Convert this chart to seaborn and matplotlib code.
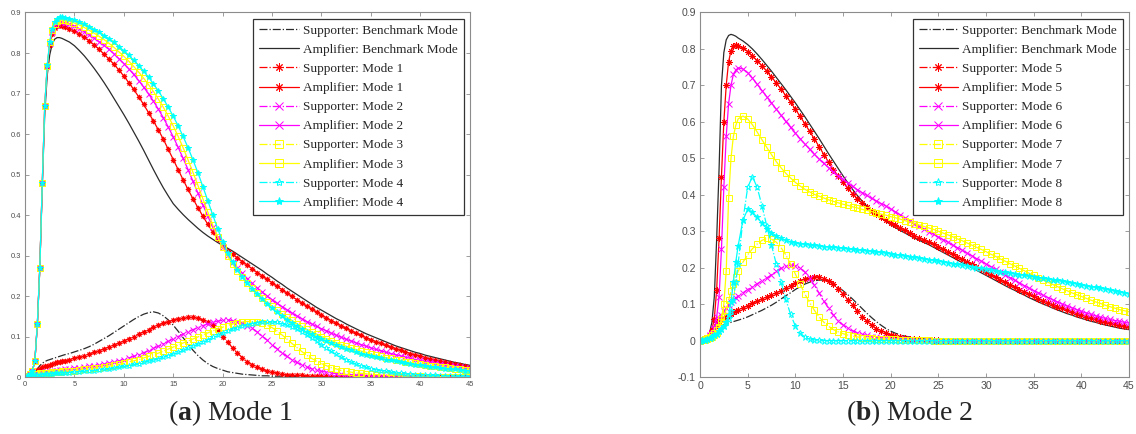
import numpy as np
import matplotlib
matplotlib.use('Agg')
import matplotlib.pyplot as plt
import seaborn as sns
from matplotlib.ticker import MultipleLocator, FormatStrFormatter

# 时间轴：开头上升很快，所以前 4 个单位取得更密
t = np.concatenate([np.arange(0, 4.01, 0.25), np.arange(4.5, 45.01, 0.5)])

# ---------------- (a) Mode 1 ----------------
a_bench_sup = [0, .002, .004, .008, .013, .020, .028, .034, .038, .041, .043, .045, .047, .049, .051, .053, .055,
               .058, .062, .066, .070, .075, .081, .088, .095, .102, .110,
               .118, .126, .134, .142, .149, .155, .159, .161, .158, .151,
               .141, .128, .113, .097, .081, .066, .053, .042, .033, .026,
               .021, .017, .013, .011, .009, .007, .006, .005, .004, .003,
               .003, .002, .002, .002, .001, .001, .001, .001, .001, .001,
               0, 0, 0, 0, 0, 0, 0, 0, 0, 0,
               0, 0, 0, 0, 0, 0, 0, 0, 0, 0,
               0, 0, 0, 0, 0, 0, 0, 0, 0, 0,
               0, 0]
a_bench_amp = [0, .003, .007, .015, .04, .13, .27, .47, .65, .745, .795, .822, .834, .838, .838, .836, .833,
               .827, .818, .806, .793, .778, .762, .745, .727, .708, .688,
               .668, .648, .627, .605, .583, .560, .536, .512, .489, .467,
               .447, .428, .414, .401, .389, .378, .367, .357, .348, .340,
               .332, .325, .318, .311, .303, .295, .287, .279, .271, .263,
               .254, .246, .237, .229, .220, .212, .204, .196, .188, .180,
               .172, .165, .158, .151, .144, .138, .131, .125, .119, .113,
               .107, .102, .097, .092, .087, .082, .077, .073, .069, .065,
               .061, .058, .054, .051, .048, .045, .042, .039, .036, .034,
               .031, .029]
a_sup1 = [0, .002, .005, .009, .014, .018, .021, .024, .026, .028, .030, .032, .034, .036, .037, .039, .040,
          .043, .046, .050, .053, .057, .061, .065, .070, .074, .079,
          .084, .089, .095, .100, .106, .112, .117, .123, .128, .133,
          .137, .141, .144, .146, .147, .147, .145, .141, .135, .128,
          .115, .100, .086, .072, .059, .048, .038, .030, .024, .019,
          .015, .012, .010, .008, .006, .005, .004, .004, .003, .003,
          .002, .002, .002, .001, .001, .001, .001, .001, .001, .001,
          0, 0, 0, 0, 0, 0, 0, 0, 0, 0,
          0, 0, 0, 0, 0, 0, 0, 0, 0, 0,
          0, 0]
a_amp1 = [0, .003, .007, .015, .04, .13, .27, .48, .67, .765, .82, .848, .862, .867, .868, .867, .865,
          .860, .854, .847, .839, .830, .820, .809, .797, .785, .772,
          .758, .743, .727, .710, .692, .673, .653, .632, .610, .587,
          .562, .537, .512, .487, .463, .440, .418, .397, .377, .358,
          .341, .325, .312, .303, .294, .285, .276, .267, .258, .250,
          .241, .233, .224, .216, .207, .199, .191, .183, .175, .168,
          .160, .153, .146, .139, .133, .126, .120, .114, .108, .103,
          .097, .092, .087, .083, .078, .074, .070, .066, .062, .058,
          .055, .052, .048, .045, .042, .040, .037, .034, .032, .030,
          .027, .025]
a_sup2 = [0, .002, .004, .006, .008, .009, .010, .011, .012, .013, .013, .014, .015, .016, .017, .018, .019,
          .020, .022, .023, .025, .026, .028, .030, .032, .034, .037,
          .040, .043, .047, .051, .055, .060, .065, .071, .076, .082,
          .088, .094, .100, .106, .112, .117, .122, .127, .131, .135,
          .138, .140, .141, .139, .136, .133, .127, .120, .111, .101,
          .091, .080, .070, .060, .051, .043, .036, .030, .025, .020,
          .017, .014, .012, .010, .008, .007, .006, .005, .004, .004,
          .003, .003, .002, .002, .002, .002, .001, .001, .001, .001,
          0, 0, 0, 0, 0, 0, 0, 0, 0, 0,
          0, 0]
a_amp2 = [0, .003, .007, .015, .04, .13, .27, .48, .67, .767, .824, .852, .868, .874, .876, .876, .875,
          .871, .866, .860, .853, .845, .837, .828, .819, .809, .798,
          .786, .774, .761, .747, .732, .716, .699, .681, .661, .640,
          .617, .593, .567, .540, .512, .483, .454, .425, .397, .370,
          .345, .322, .302, .285, .270, .256, .243, .231, .220, .210,
          .200, .191, .182, .174, .166, .158, .151, .144, .137, .131,
          .125, .119, .114, .108, .103, .098, .093, .089, .084, .080,
          .076, .072, .068, .065, .061, .058, .055, .052, .049, .046,
          .043, .041, .038, .036, .034, .032, .030, .028, .026, .024,
          .022, .020]
a_sup3 = [0, .001, .003, .005, .007, .008, .009, .010, .010, .011, .011, .012, .012, .013, .013, .014, .014,
          .015, .016, .017, .019, .020, .022, .023, .025, .027, .029,
          .031, .034, .037, .040, .043, .047, .051, .055, .059, .064,
          .069, .074, .079, .084, .089, .094, .099, .104, .109, .114,
          .118, .123, .127, .131, .134, .136, .137, .137, .136, .133,
          .128, .122, .114, .104, .094, .083, .073, .063, .054, .046,
          .039, .033, .028, .023, .020, .016, .014, .012, .010, .009,
          .008, .007, .006, .005, .004, .004, .003, .003, .002, .002,
          .002, .002, .001, .001, .001, .001, .001, .001, 0, 0,
          0, 0]
a_amp3 = [0, .003, .007, .015, .04, .13, .27, .48, .67, .768, .826, .856, .872, .879, .882, .882, .881,
          .878, .874, .869, .863, .856, .849, .841, .833, .824, .814,
          .803, .792, .780, .767, .753, .738, .722, .705, .686, .666,
          .644, .620, .594, .566, .536, .505, .473, .440, .407, .375,
          .346, .320, .298, .279, .262, .247, .233, .220, .208, .196,
          .185, .175, .165, .156, .148, .140, .132, .125, .118, .112,
          .106, .100, .095, .090, .085, .080, .076, .072, .068, .064,
          .061, .057, .054, .051, .048, .046, .043, .041, .038, .036,
          .034, .032, .030, .028, .027, .025, .024, .022, .021, .019,
          .018, .017]
a_sup4 = [0, .001, .002, .003, .004, .005, .005, .006, .007, .007, .008, .008, .009, .009, .009, .010, .010,
          .011, .012, .013, .014, .015, .016, .017, .019, .020, .022,
          .024, .026, .028, .031, .033, .036, .039, .042, .045, .049,
          .053, .057, .061, .066, .071, .076, .081, .087, .092, .098,
          .103, .108, .113, .118, .122, .126, .129, .132, .134, .136,
          .137, .136, .135, .132, .128, .124, .118, .111, .104, .096,
          .088, .079, .071, .063, .056, .049, .043, .037, .032, .028,
          .024, .021, .018, .016, .014, .012, .010, .009, .008, .007,
          .006, .005, .005, .004, .004, .003, .003, .003, .002, .002,
          .002, .001]
a_amp4 = [0, .003, .007, .015, .04, .13, .27, .48, .67, .77, .828, .86, .877, .885, .888, .888, .887,
          .885, .881, .876, .871, .865, .858, .851, .843, .835, .826,
          .816, .805, .794, .782, .769, .755, .740, .724, .706, .687,
          .666, .644, .620, .594, .566, .536, .504, .470, .435, .400,
          .366, .334, .306, .283, .264, .247, .232, .218, .205, .193,
          .181, .170, .160, .151, .142, .134, .126, .118, .111, .105,
          .099, .093, .088, .083, .078, .074, .070, .066, .062, .058,
          .055, .052, .049, .046, .043, .041, .039, .036, .034, .032,
          .030, .029, .027, .025, .024, .022, .021, .020, .019, .018,
          .016, .015]

# ---------------- (b) Mode 2 ----------------
b_bench_sup = [0, .001, .003, .006, .012, .020, .028, .034, .039, .042, .044, .046, .048, .050, .052, .054, .056,
               .060, .065, .071, .077, .083, .090, .097, .105, .114, .123,
               .131, .140, .148, .155, .160, .164, .166, .166, .163, .156,
               .147, .137, .126, .114, .101, .088, .075, .063, .052, .042,
               .033, .026, .020, .016, .012, .010, .008, .006, .005, .004,
               .003, .002, .002, .001, .001, .001, .001, 0, 0, 0,
               0, 0, 0, 0, 0, 0, 0, 0, 0, 0,
               0, 0, 0, 0, 0, 0, 0, 0, 0, 0,
               0, 0, 0, 0, 0, 0, 0, 0, 0, 0,
               0, 0]
b_bench_amp = [0, .001, .003, .007, .020, .050, .120, .280, .470, .700, .790, .825, .837, .840, .838, .835, .830,
               .822, .812, .800, .786, .771, .755, .739, .722, .705, .688,
               .670, .652, .633, .614, .594, .574, .554, .533, .512, .492,
               .472, .452, .433, .415, .398, .383, .369, .357, .346, .336,
               .327, .318, .310, .302, .295, .288, .281, .275, .269, .263,
               .256, .249, .242, .235, .228, .221, .214, .207, .200, .193,
               .186, .179, .172, .165, .158, .151, .144, .138, .131, .125,
               .118, .112, .106, .100, .095, .089, .084, .079, .074, .070,
               .065, .061, .057, .053, .050, .046, .043, .040, .037, .034,
               .032, .030]
b_sup5 = [0, .002, .004, .008, .015, .025, .035, .045, .052, .057, .062, .066, .070, .074, .077, .081, .084,
          .090, .096, .102, .108, .113, .119, .125, .131, .137, .144,
          .151, .158, .164, .170, .173, .175, .175, .170, .163, .155,
          .142, .128, .112, .097, .081, .066, .053, .042, .033, .025,
          .020, .015, .012, .009, .007, .005, .004, .003, .002, .002,
          .001, .001, 0, 0, 0, 0, 0, 0, 0, 0,
          0, 0, 0, 0, 0, 0, 0, 0, 0, 0,
          0, 0, 0, 0, 0, 0, 0, 0, 0, 0,
          0, 0, 0, 0, 0, 0, 0, 0, 0, 0,
          0, 0]
b_amp5 = [0, .001, .003, .007, .015, .030, .060, .140, .280, .450, .600, .700, .765, .795, .807, .810, .808,
          .803, .793, .781, .768, .754, .739, .723, .707, .690, .672,
          .654, .635, .615, .595, .574, .553, .532, .510, .489, .468,
          .452, .434, .418, .403, .389, .377, .366, .356, .347, .339,
          .331, .323, .316, .309, .302, .295, .288, .282, .276, .270,
          .264, .257, .251, .244, .237, .230, .223, .216, .209, .202,
          .195, .188, .181, .174, .167, .160, .153, .147, .140, .134,
          .127, .121, .115, .109, .104, .098, .093, .088, .083, .079,
          .074, .070, .066, .062, .058, .055, .051, .048, .045, .042,
          .039, .036]
b_sup6 = [0, .002, .004, .008, .014, .022, .032, .045, .058, .070, .080, .090, .098, .105, .111, .117, .122,
          .131, .140, .148, .156, .164, .172, .180, .190, .198, .204,
          .207, .205, .199, .188, .172, .152, .130, .108, .088, .070,
          .055, .043, .034, .027, .021, .017, .014, .011, .009, .007,
          .006, .005, .004, .003, .003, .002, .002, .001, .001, .001,
          0, 0, 0, 0, 0, 0, 0, 0, 0, 0,
          0, 0, 0, 0, 0, 0, 0, 0, 0, 0,
          0, 0, 0, 0, 0, 0, 0, 0, 0, 0,
          0, 0, 0, 0, 0, 0, 0, 0, 0, 0,
          0, 0]
b_amp6 = [0, .001, .003, .006, .012, .022, .035, .065, .120, .250, .420, .560, .650, .700, .730, .742, .748,
          .745, .735, .720, .703, .686, .669, .652, .635, .618, .601,
          .585, .569, .554, .539, .525, .511, .498, .486, .474, .463,
          .452, .442, .432, .423, .414, .406, .398, .390, .383, .376,
          .369, .361, .353, .345, .337, .329, .321, .313, .306, .299,
          .292, .284, .277, .270, .262, .255, .248, .240, .233, .225,
          .218, .210, .203, .195, .188, .180, .173, .166, .158, .151,
          .144, .137, .131, .124, .118, .112, .106, .100, .095, .090,
          .085, .080, .076, .072, .068, .064, .061, .058, .055, .053,
          .050, .048]
b_sup7 = [0, .001, .003, .006, .010, .015, .020, .028, .038, .050, .065, .085, .110, .135, .155, .175, .190,
          .215, .235, .252, .265, .275, .280, .278, .270, .255, .235,
          .210, .183, .155, .128, .104, .083, .065, .050, .039, .030,
          .024, .019, .015, .012, .010, .008, .007, .006, .005, .004,
          .004, .003, .003, .002, .002, .001, .001, .001, .001, .001,
          0, 0, 0, 0, 0, 0, 0, 0, 0, 0,
          0, 0, 0, 0, 0, 0, 0, 0, 0, 0,
          0, 0, 0, 0, 0, 0, 0, 0, 0, 0,
          0, 0, 0, 0, 0, 0, 0, 0, 0, 0,
          0, 0]
b_amp7 = [0, .001, .002, .004, .007, .010, .015, .022, .035, .060, .100, .190, .390, .500, .560, .590, .608,
          .616, .608, .592, .572, .551, .530, .510, .491, .474, .459,
          .446, .434, .424, .415, .408, .401, .396, .391, .386, .382,
          .378, .374, .371, .367, .364, .360, .357, .354, .350, .347,
          .344, .340, .337, .333, .329, .325, .321, .317, .313, .309,
          .305, .300, .295, .290, .285, .279, .274, .268, .262, .256,
          .250, .244, .237, .231, .224, .218, .211, .205, .198, .192,
          .185, .179, .172, .166, .160, .154, .148, .142, .137, .131,
          .126, .121, .116, .111, .106, .102, .097, .093, .089, .085,
          .082, .079]
b_sup8 = [0, .001, .002, .004, .007, .010, .014, .019, .025, .032, .040, .050, .062, .080, .110, .160, .210,
          .330, .420, .450, .420, .370, .315, .262, .210, .160, .113,
          .072, .040, .020, .010, .005, .002, .001, 0, 0, 0,
          0, 0, 0, 0, 0, 0, 0, 0, 0, 0,
          0, 0, 0, 0, 0, 0, 0, 0, 0, 0,
          0, 0, 0, 0, 0, 0, 0, 0, 0, 0,
          0, 0, 0, 0, 0, 0, 0, 0, 0, 0,
          0, 0, 0, 0, 0, 0, 0, 0, 0, 0,
          0, 0, 0, 0, 0, 0, 0, 0, 0, 0,
          0, 0]
b_amp8 = [0, .001, .002, .004, .007, .010, .014, .019, .025, .032, .040, .050, .070, .105, .160, .215, .260,
          .330, .360, .352, .338, .322, .307, .296, .287, .280, .275,
          .271, .268, .266, .264, .262, .261, .259, .258, .257, .256,
          .255, .253, .252, .250, .249, .248, .246, .245, .243, .242,
          .240, .238, .236, .234, .232, .230, .228, .226, .224, .222,
          .220, .218, .216, .214, .211, .209, .207, .205, .202, .200,
          .198, .196, .193, .191, .189, .187, .185, .183, .181, .179,
          .177, .175, .173, .171, .169, .167, .165, .163, .160, .158,
          .156, .153, .151, .148, .146, .144, .141, .139, .136, .134,
          .131, .129]

# 颜色和标记（MATLAB 风格）
BENCH = '#2b2b2b'
RED, MAG, YEL, CYA = '#ff0000', '#ff00ff', '#ffff00', '#00ffff'
AST = (8, 2, 0)   # 星号

series_a = [
    ('Supporter: Benchmark Mode', a_bench_sup, BENCH, '-.', None, False),
    ('Amplifier: Benchmark Mode', a_bench_amp, BENCH, '-', None, False),
    ('Supporter: Mode 1', a_sup1, RED, '-.', AST, False),
    ('Amplifier: Mode 1', a_amp1, RED, '-', AST, False),
    ('Supporter: Mode 2', a_sup2, MAG, '-.', 'x', False),
    ('Amplifier: Mode 2', a_amp2, MAG, '-', 'x', False),
    ('Supporter: Mode 3', a_sup3, YEL, '-.', 's', False),
    ('Amplifier: Mode 3', a_amp3, YEL, '-', 's', False),
    ('Supporter: Mode 4', a_sup4, CYA, '-.', '*', False),
    ('Amplifier: Mode 4', a_amp4, CYA, '-', '*', True),
]
series_b = [
    ('Supporter: Benchmark Mode', b_bench_sup, BENCH, '-.', None, False),
    ('Amplifier: Benchmark Mode', b_bench_amp, BENCH, '-', None, False),
    ('Supporter: Mode 5', b_sup5, RED, '-.', AST, False),
    ('Amplifier: Mode 5', b_amp5, RED, '-', AST, False),
    ('Supporter: Mode 6', b_sup6, MAG, '-.', 'x', False),
    ('Amplifier: Mode 6', b_amp6, MAG, '-', 'x', False),
    ('Supporter: Mode 7', b_sup7, YEL, '-.', 's', False),
    ('Amplifier: Mode 7', b_amp7, YEL, '-', 's', False),
    ('Supporter: Mode 8', b_sup8, CYA, '-.', '*', False),
    ('Amplifier: Mode 8', b_amp8, CYA, '-', '*', True),
]

sns.set_style('ticks')
plt.rcParams['font.family'] = ['Liberation Sans', 'DejaVu Sans']
plt.rcParams['mathtext.fontset'] = 'custom'
plt.rcParams['mathtext.rm'] = 'Liberation Serif'
plt.rcParams['mathtext.bf'] = 'Liberation Serif:bold'


def draw_panel(ax, series, y_min, tick_size, marker_size):
    for label, vals, color, ls, marker, filled in series:
        sns.lineplot(x=t, y=vals, ax=ax, color=color, linestyle=ls, linewidth=0.9,
                     marker=marker, markersize=marker_size, markeredgewidth=0.7,
                     markeredgecolor=color, markerfacecolor=color if filled else 'none',
                     label=label)
    ax.set_xlim(0, 45)
    ax.set_ylim(y_min, 0.9)
    ax.xaxis.set_major_locator(MultipleLocator(5))
    ax.yaxis.set_major_locator(MultipleLocator(0.1))
    ax.yaxis.set_major_formatter(FormatStrFormatter('%g'))
    ax.set_xlabel('')
    ax.set_ylabel('')
    ax.tick_params(direction='in', top=True, right=True, length=3, width=0.6,
                   color='#8c8c8c', labelcolor='#4d4d4d', labelsize=tick_size, pad=3)
    for sp in ax.spines.values():
        sp.set_color('#8c8c8c')
        sp.set_linewidth(0.8)
    leg = ax.legend(loc='upper right', prop={'family': 'Liberation Serif', 'size': 9.5},
                    frameon=True, fancybox=False, framealpha=1, edgecolor='#333333',
                    borderaxespad=0.47, handlelength=3.0, handletextpad=0.3,
                    labelspacing=0.52, borderpad=0.45, numpoints=1)
    leg.get_frame().set_linewidth(0.9)
    for h in leg.legend_handles:
        h.set_markersize(6)


fig = plt.figure(figsize=(11.36, 4.34), dpi=100)
ax_a = fig.add_axes([0.022, 0.1313, 0.3915, 0.8399])
ax_b = fig.add_axes([0.6162, 0.1313, 0.3776, 0.8399])

draw_panel(ax_a, series_a, 0, 5.4, 3.8)
draw_panel(ax_b, series_b, -0.1, 7.6, 4.6)

fig.text(0.203, 0.048, r'($\mathbf{a}$) Mode 1', ha='center', va='center',
         fontsize=20, family='Liberation Serif')
fig.text(0.801, 0.048, r'($\mathbf{b}$) Mode 2', ha='center', va='center',
         fontsize=20, family='Liberation Serif')

plt.savefig('out.png', dpi=100)
plt.close()
